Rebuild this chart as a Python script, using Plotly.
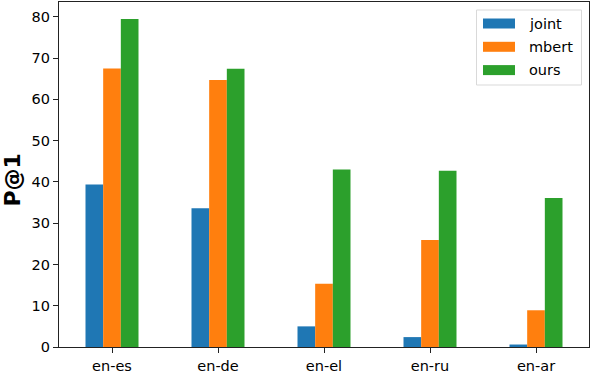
import plotly.graph_objects as go

categories = ["en-es", "en-de", "en-el", "en-ru", "en-ar"]
joint = [39.4, 33.6, 5.0, 2.4, 0.6]
mbert = [67.5, 64.7, 15.3, 25.9, 8.9]
ours = [79.5, 67.4, 43.0, 42.7, 36.1]
series_names = ["joint", "mbert", "ours"]
series_colors = ["#1f77b4", "#ff7f0e", "#2ca02c"]
y_ticks = [0, 10, 20, 30, 40, 50, 60, 70, 80]

FONT = "DejaVu Sans"

fig = go.Figure()
for name, vals, col in zip(series_names, [joint, mbert, ours], series_colors):
    fig.add_trace(go.Bar(x=categories, y=vals, name=name, marker_color=col,
                         marker_line_width=0, showlegend=False))

# custom legend (matplotlib style)
lx0, ly0, lx1, ly1 = 476.5, 10, 581.5, 85
W, H = 592, 372
ml, mr, mt, mb = 59, 3, 2, 25
pw, ph = W - ml - mr, H - mt - mb

def px(x):
    return (x - ml) / pw

def py(y):
    return 1 - (y - mt) / ph

shapes = [dict(type="rect", xref="paper", yref="paper",
               x0=px(lx0), x1=px(lx1), y0=py(ly1), y1=py(ly0),
               line=dict(color="#d9d9d9", width=1), fillcolor="rgba(255,255,255,0.85)",
               layer="above")]
annotations = []
for i, (name, col) in enumerate(zip(series_names, series_colors)):
    cy = 23.5 + i * 23.3
    shapes.append(dict(type="rect", xref="paper", yref="paper",
                       x0=px(483), x1=px(515), y0=py(cy + 5), y1=py(cy - 5),
                       line=dict(width=0), fillcolor=col, layer="above"))
    annotations.append(dict(xref="paper", yref="paper", x=px(527), y=py(cy),
                            text=name, showarrow=False, xanchor="left", yanchor="middle",
                            font=dict(family=FONT, size=14.5, color="black")))

# y-axis title
annotations.append(dict(xref="paper", yref="paper", x=px(11.5), y=py(180),
                        text="<b>P@1</b>", showarrow=False, textangle=-90,
                        xanchor="center", yanchor="middle",
                        font=dict(family=FONT, size=22, color="black")))

fig.update_layout(
    width=W, height=H,
    margin=dict(l=ml, r=mr, t=mt, b=mb, autoexpand=False),
    plot_bgcolor="white", paper_bgcolor="white",
    barmode="group", bargap=0.5, bargroupgap=0,
    font=dict(family=FONT, size=14.5, color="black"),
    shapes=shapes, annotations=annotations,
    xaxis=dict(range=[-0.5, 4.5], showline=True, mirror=True, linecolor="#222222",
               linewidth=1.2, ticks="outside", ticklen=5, tickcolor="#222222",
               showgrid=False, tickfont=dict(size=14.5), automargin=False),
    yaxis=dict(range=[0, 83.6], tickvals=y_ticks, showline=True, mirror=True,
               linecolor="#222222", linewidth=1.2, ticks="outside", ticklen=5,
               tickcolor="#222222", showgrid=False, zeroline=False,
               tickfont=dict(size=14.5), automargin=False),
)

fig.write_html("out.html", config={"displayModeBar": False},
               post_script="document.body.style.margin='0';")
